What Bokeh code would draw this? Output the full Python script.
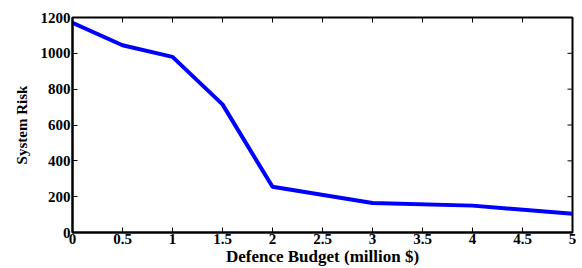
import math
from bokeh.plotting import figure
from bokeh.models import FixedTicker, Range1d
from bokeh.embed import file_html
from bokeh.resources import INLINE

budget = [0, 0.5, 1, 1.5, 2, 3, 4, 5]
risk = [1170, 1045, 980, 715, 255, 165, 150, 104]
x_ticks = [0, 0.5, 1, 1.5, 2, 2.5, 3, 3.5, 4, 4.5, 5]
y_ticks = [0, 200, 400, 600, 800, 1000, 1200]

FONT = "Liberation Serif"

p = figure(width=580, height=268, output_backend="svg", toolbar_location=None,
           x_range=Range1d(x_ticks[0], x_ticks[-1]), y_range=Range1d(y_ticks[0], y_ticks[-1]),
           min_border_left=72, min_border_right=8, min_border_top=17, min_border_bottom=36)
p.outline_line_color = "black"
p.outline_line_width = 2
p.xgrid.visible = False
p.ygrid.visible = False
p.background_fill_color = "white"
p.border_fill_color = "white"

p.line(budget, risk, line_color="#0000FF", line_width=4)

# mirrored inward ticks on top and right edges
p.ray(x=x_ticks, y=[y_ticks[-1]] * len(x_ticks), length=5, length_units="screen",
      angle=-math.pi / 2, line_color="black", line_width=1)
p.ray(x=[x_ticks[-1]] * len(y_ticks), y=y_ticks, length=5, length_units="screen",
      angle=math.pi, line_color="black", line_width=1)

def style(ax, ticks):
    ax.ticker = FixedTicker(ticks=ticks)
    ax.major_tick_in = 5
    ax.major_tick_out = 0
    ax.minor_tick_in = 0
    ax.minor_tick_out = 0
    ax.axis_line_color = "black"
    ax.axis_line_width = 2
    ax.major_tick_line_color = "black"
    ax.major_tick_line_width = 1
    ax.major_label_text_font = FONT
    ax.major_label_text_font_style = "bold"
    ax.major_label_text_font_size = "15px"
    ax.major_label_text_color = "black"
    ax.axis_label_text_font = FONT
    ax.axis_label_text_font_style = "bold"
    ax.axis_label_text_color = "black"

xa = p.xaxis[0]
style(xa, x_ticks)
xa.axis_label = "Defence Budget (million $)"
xa.axis_label_text_font_size = "17px"
xa.major_label_standoff = 1
xa.axis_label_standoff = 0

ya = p.yaxis[0]
style(ya, y_ticks)
ya.axis_label = "System Risk"
ya.axis_label_text_font_size = "15px"
ya.major_label_standoff = 2
ya.axis_label_standoff = 8

open("out.html", "w").write(file_html(p, INLINE))
